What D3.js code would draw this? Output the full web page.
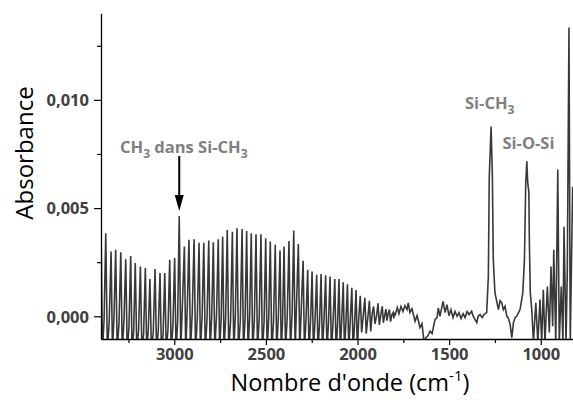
<!DOCTYPE html>
<html><head><meta charset="utf-8">
<script src="https://cdn.jsdelivr.net/npm/d3@7"></script>
<style>
html,body{margin:0;padding:0;background:#fff;}
svg{display:block;}
</style></head>
<body>
<svg id="chart" width="573" height="403"></svg>
<script>
// ---- Data ----
// Interference fringes: peak wavenumbers (cm-1) and their absorbance
const fringeWn = [3400,3374,3345,3320,3292,3265,3238,3213,3185,3158,3133,3105,3078,3052,3025,2998,2973,2945,2920,2892,2865,2839,2812,2787,2760,2736,2711,2683,2658,2630,2605,2580,2554,2527,2501,2476,2449,2423,2401,2374,2348,2323,2297,2272,2248,2223,2199,2174,2150,2124,2101,2078,2055,2031,2008,1985,1960,1935,1912,1888,1865,1845,1826,1805];
const fringePeak = [0.00413,0.00384,0.00299,0.00307,0.00296,0.00264,0.00279,0.00246,0.00230,0.00223,0.00172,0.00218,0.00200,0.00200,0.00261,0.00269,0.00463,0.00322,0.00353,0.00356,0.00340,0.00340,0.00350,0.00342,0.00356,0.00368,0.00399,0.00391,0.00407,0.00403,0.00394,0.00384,0.00379,0.00379,0.00361,0.00345,0.00330,0.00304,0.00322,0.00348,0.00396,0.00334,0.00256,0.00215,0.00207,0.00192,0.00195,0.00190,0.00184,0.00172,0.00172,0.00157,0.00148,0.00132,0.00121,0.00095,0.00085,0.00072,0.00046,0.00060,0.00046,0.00033,0.00031,0.00018];
// minimum after each fringe peak
const fringeDip = [-0.0016,-0.0016,-0.0016,-0.0016,-0.0016,-0.0016,-0.0016,-0.0016,-0.0016,-0.0016,-0.0016,-0.0016,-0.0016,-0.0016,-0.0016,-0.0016,-0.0016,-0.0016,-0.0016,-0.0016,-0.0016,-0.0016,-0.0016,-0.0016,-0.0016,-0.0016,-0.0016,-0.0016,-0.0016,-0.0016,-0.0016,-0.0016,-0.0016,-0.0016,-0.0016,-0.0016,-0.0016,-0.0016,-0.0016,-0.0016,-0.0016,-0.0016,-0.0016,-0.0016,-0.0016,-0.0016,-0.0016,-0.0016,-0.0016,-0.0016,-0.0016,-0.0016,-0.0016,-0.0016,-0.0016,-0.00075,-0.0008,-0.0007,-0.00035,-0.0004,-0.0003,-0.0002,-0.00025,-0.0001];
// level between the dip and the next fringe
const fringeBase = [-0.00015,-0.00024,0.00003,-0.00034,-0.00015,-0.00052,-0.0007,-0.00061,-0.0008,-0.00061,-0.00075,-0.00066,-0.00084,-0.00061,-0.00043,-0.00024,0.00077,0.00049,0.00022,-0.00006,0.00003,-0.00015,-0.00001,0.00008,-0.00015,-0.00006,-0.0002,0.00003,-0.00024,-0.0001,-0.00001,-0.0002,-0.00006,-0.00029,-0.0001,-0.00024,-0.00006,-0.00015,0.00003,0.00012,0.00086,0.00054,-0.00006,-0.00024,-0.00015,-0.00034,-0.0001,-0.00029,-0.0002,-0.00038,-0.00015,-0.00024,-0.00015,-0.00034,-0.00006,0.00003,-0.00006,0.00012,-0.00001,0.00008,0.00003,0.00012,0.00008,0.00017];
// rest of the spectrum (1800 - 820 cm-1)
const restWn = [1795,1783,1774,1763,1752,1741,1730,1723,1714,1703,1686,1675,1659,1648,1637,1626,1615,1604,1593,1577,1566,1559,1550,1533,1522,1512,1501,1490,1479,1468,1457,1446,1435,1424,1413,1402,1391,1377,1370,1359,1349,1342,1331,1320,1310,1295,1286,1281,1271,1264,1259,1250,1231,1222,1213,1204,1195,1185,1178,1167,1158,1149,1140,1131,1124,1113,1098,1089,1082,1076,1071,1065,1062,1057,1049,1040,1027,1016,1004,995,986,977,964,953,944,935,929,918,907,899,888,879,873,862,855,846,839,826,813];
const restAbs = [0.00003,0.0004,0.00012,0.00045,0.00022,0.00049,0.00031,0.00062,0.00017,0.00035,-0.00023,0.00003,-0.00052,-0.00034,-0.0012,-0.00098,-0.00089,-0.00069,-0.0008,-0.00015,-0.00006,0.00039,0.0,0.00069,0.00017,0.00054,0.00003,0.00031,-0.00006,0.00022,0.0,0.00017,-0.0001,0.00012,-0.00006,0.00022,0.00008,0.00023,0.00003,-0.00015,-0.00029,0.0,0.00008,-0.00006,0.00008,0.00017,0.00184,0.00644,0.00877,0.00644,0.00261,0.00109,0.00031,0.00072,0.00062,0.00031,0.00046,0.0,-0.00006,-0.00038,-0.00099,-0.00029,-0.00006,0.0,0.00012,0.00031,0.00108,0.00261,0.00615,0.00716,0.00615,0.00575,0.00339,0.00108,0.00031,-0.0012,0.00062,-0.0012,0.00077,-0.0012,0.00123,-0.0012,0.00138,-0.00075,0.0023,-0.00046,0.00307,-0.0012,0.00678,-0.0012,0.00138,-0.0012,0.00414,-0.0012,0.00215,0.01334,-0.0012,0.00598,0.0026];

const yTicks = [0, 0.005, 0.010];
const yMinor = [0.0025, 0.0075, 0.0125];
const xTicks = [3000, 2500, 2000, 1500, 1000];
const xMinor = [3250, 2750, 2250, 1750, 1250];

// ---- Build the trace ----
const trace = [];
for (let i = 0; i < fringeWn.length; i++) {
  const w = fringeWn[i];
  const next = i + 1 < fringeWn.length ? fringeWn[i + 1] : restWn[0];
  trace.push([w, fringePeak[i]]);
  trace.push([w + (next - w) * 0.3, fringeDip[i]]);
  trace.push([w + (next - w) * 0.65, fringeBase[i]]);
}
restWn.forEach((w, i) => trace.push([w, restAbs[i]]));

// ---- Layout ----
const svg = d3.select("#chart");
const L = 101, R = 573, T = 13.3, B = 339;
const x = d3.scaleLinear().domain([3400, 824]).range([L, R]);
const y = d3.scaleLinear().domain([-0.00105, 0.014]).range([B, T]);

svg.append("defs").append("clipPath").attr("id", "clip")
  .append("rect").attr("x", L).attr("y", T).attr("width", R - L).attr("height", B - T);

const line = d3.line().x(d => x(d[0])).y(d => y(d[1]));
svg.append("path").datum(trace)
  .attr("clip-path", "url(#clip)")
  .attr("fill", "none").attr("stroke", "#383838").attr("stroke-width", 1.6)
  .attr("stroke-linejoin", "miter")
  .attr("d", line);

// ---- Axes ----
const tickColor = "#404040";
const fmt = v => d3.format(".3f")(v).replace(".", ",");
const yAxis = svg.append("g").attr("transform", `translate(${L},0)`)
  .call(d3.axisLeft(y).tickValues(yTicks).tickFormat(fmt).tickSizeInner(7).tickSizeOuter(0).tickPadding(5));
const yMin = svg.append("g").attr("transform", `translate(${L},0)`)
  .call(d3.axisLeft(y).tickValues(yMinor).tickSizeInner(4).tickSizeOuter(0));
yMin.select(".domain").remove();
yMin.selectAll("text").remove();
const xAxis = svg.append("g").attr("transform", `translate(0,${B})`)
  .call(d3.axisBottom(x).tickValues(xTicks).tickFormat(d3.format("d")).tickSizeInner(6).tickSizeOuter(0).tickPadding(3.5));
const xMin = svg.append("g").attr("transform", `translate(0,${B})`)
  .call(d3.axisBottom(x).tickValues(xMinor).tickSizeInner(4).tickSizeOuter(0));
xMin.select(".domain").remove();
xMin.selectAll("text").remove();

svg.selectAll(".domain").attr("stroke", "#000").attr("stroke-width", 1.3);
svg.selectAll(".tick line").attr("stroke", "#000").attr("stroke-width", 1.2);
yAxis.selectAll("text").attr("font-family", "'Open Sans', sans-serif").attr("font-weight", "bold")
  .attr("font-size", 16.5).attr("fill", tickColor).attr("dy", "0.35em");
xAxis.selectAll("text").attr("font-family", "'Open Sans', sans-serif").attr("font-weight", "bold")
  .attr("font-size", 16.5).attr("fill", tickColor);

// ---- Axis titles ----
svg.append("text")
  .attr("transform", `translate(33,153) rotate(-90)`)
  .attr("text-anchor", "middle")
  .attr("font-family", "'Open Sans', sans-serif").attr("font-size", 24).attr("fill", "#000")
  .text("Absorbance");

const xt = svg.append("text")
  .attr("x", 350).attr("y", 390.5)
  .attr("text-anchor", "middle")
  .attr("font-family", "'Open Sans', sans-serif").attr("font-size", 23.5).attr("fill", "#000");
xt.append("tspan").text("Nombre d'onde (cm");
xt.append("tspan").attr("dy", -10).attr("font-size", 15).text("-1");
xt.append("tspan").attr("dy", 10).text(")");

// ---- Annotations ----
const annColor = "#808080";
function annot(px, py, parts) {
  const t = svg.append("text").attr("x", px).attr("y", py)
    .attr("font-family", "'Open Sans', sans-serif").attr("font-weight", "bold")
    .attr("font-size", 16.5).attr("fill", annColor);
  parts.forEach(p => {
    if (p.sub) {
      t.append("tspan").attr("dy", 5).attr("font-size", 12).text(p.t);
    } else {
      t.append("tspan").attr("dy", p.after ? -5 : 0).text(p.t);
    }
  });
}
annot(120, 152.5, [{t:"CH"},{t:"3",sub:true},{t:" dans Si-CH",after:true},{t:"3",sub:true}]);
annot(465, 109, [{t:"Si-CH"},{t:"3",sub:true}]);
annot(502.5, 148.5, [{t:"Si-O-Si"}]);

// Arrow pointing to the CH3 peak
const ax = x(2973);
svg.append("line").attr("x1", ax).attr("x2", ax).attr("y1", 156).attr("y2", 198)
  .attr("stroke", "#000").attr("stroke-width", 2);
svg.append("path")
  .attr("d", `M${ax - 4.5},195 L${ax + 4.5},195 L${ax},211 Z`)
  .attr("fill", "#000");
</script>
</body></html>
